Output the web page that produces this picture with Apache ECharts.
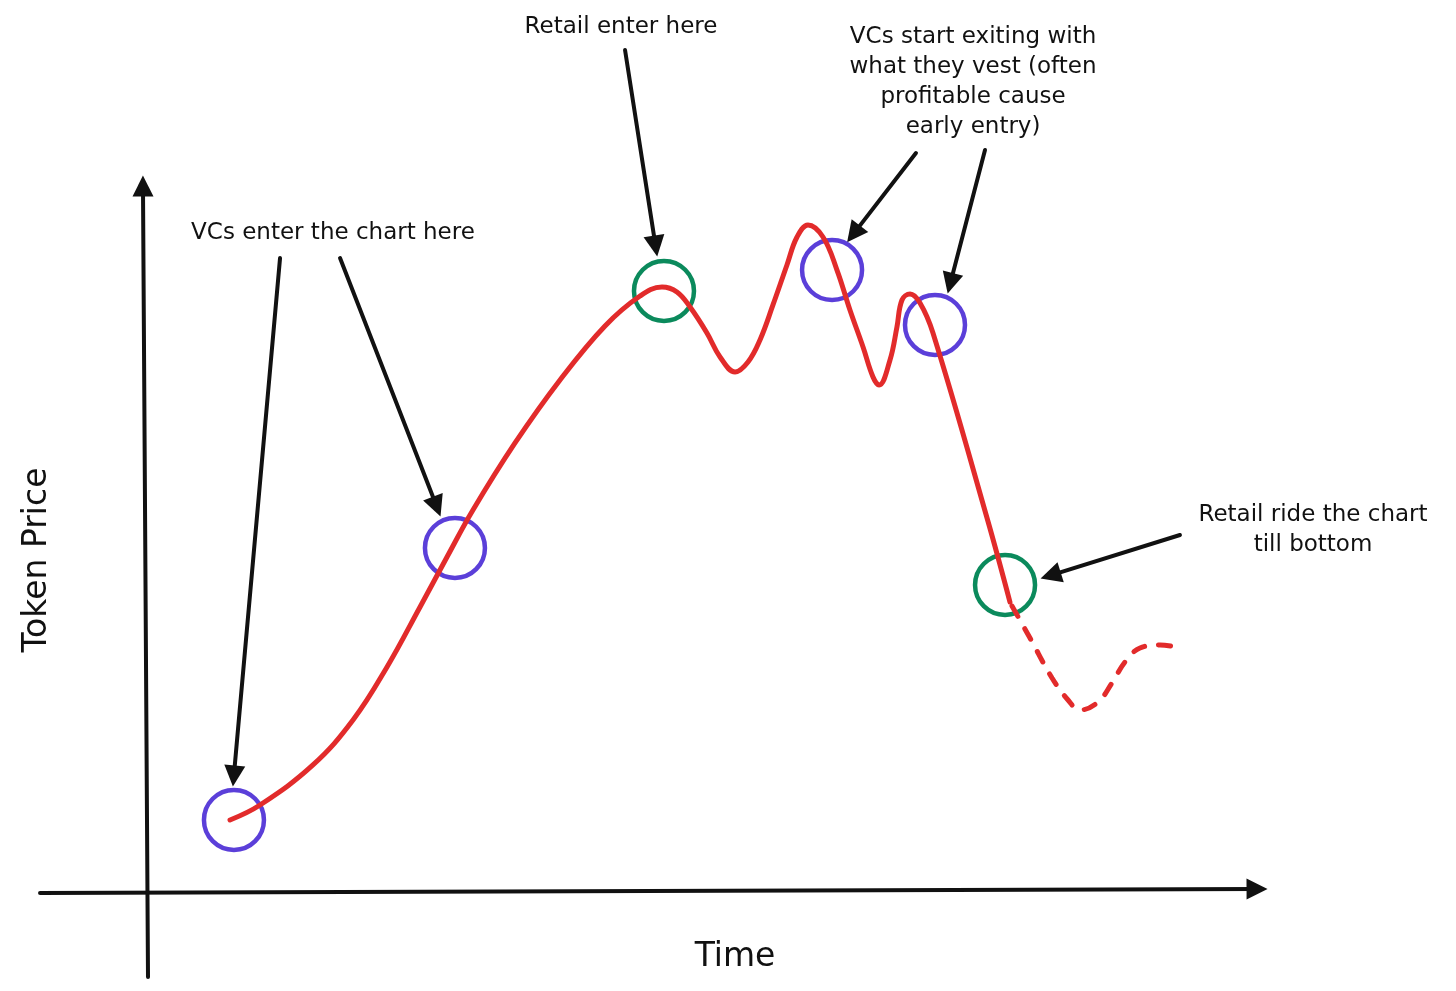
<!DOCTYPE html>
<html>
<head>
<meta charset="utf-8">
<script src="https://cdn.jsdelivr.net/npm/echarts@6/dist/echarts.min.js"></script>
<style>html,body{margin:0;padding:0;background:#fff}#c{width:1456px;height:991px}</style>
</head>
<body>
<div id="c"></div>
<script>
// Price path (time, price)
var priceSolid = [
  [7.42,10.0],[10.10,12.11],[14.83,17.75],[18.41,24.08],[21.45,31.55],[24.40,40.0],
  [26.81,47.04],[29.13,53.66],[32.89,63.10],[36.91,71.97],[40.93,79.58],[44.06,83.80],
  [46.02,85.07],[47.36,84.37],[48.53,82.25],[50.04,78.59],[51.21,75.21],
  [52.55,73.10],[53.71,74.51],[54.78,77.61],[55.94,82.54],[57.19,88.17],
  [58.09,92.11],[59.07,93.80],[60.41,92.11],[61.66,87.46],[62.82,81.83],[63.99,76.62],
  [64.88,72.39],[65.42,71.27],[66.40,74.79],[67.02,79.44],[67.47,83.24],[68.19,84.08],
  [69.08,82.82],[70.24,78.59],[75.07,52.54],[77.12,40.70]
];
var priceDashed = [
  [77.30,40.14],[78.91,35.63],[80.88,30.0],[82.31,26.90],[83.38,25.49],[84.99,26.62],
  [86.24,29.30],[87.40,32.25],[88.74,34.23],[90.53,34.65],[92.31,34.23]
];
// Highlighted moments
var vcCircles = [[7.77,10.0],[27.52,48.31],[61.22,87.46],[70.42,79.72]];
var retailCircles = [[46.20,84.51],[76.68,43.10]];
// Axis arrows (from, arrowhead centre)
var axisArrows = [
  [[-9.56,-0.28],[99.20,0.28]],
  [[0.09,-12.11],[-0.36,99.30]]
];
// Annotation arrows (from, arrowhead centre)
var noteArrows = [
  [[11.89,89.15],[7.76,16.20]],
  [[17.25,89.15],[25.89,54.14]],
  [[42.72,118.45],[45.45,90.83]],
  [[68.72,103.94],[63.14,92.55]],
  [[74.89,104.37],[71.79,85.59]],
  [[92.31,50.14],[80.75,44.46]]
];
// Annotation texts
var noteTexts = [
  [42.36,121.69,'Retail enter here'],
  [73.82,113.94,'VCs start exiting with\nwhat they vest (often\nprofitable cause\nearly entry)'],
  [16.62,92.68,'VCs enter the chart here'],
  [104.20,50.85,'Retail ride the chart\ntill bottom']
];
var axisTitles = [
  [52.55,-9.30,'Time',0],
  [-9.83,46.62,'Token Price',90]
];

var INK = '#111111', RED = '#e22b2b', VIOLET = '#5b3fd9', GREEN = '#0b8a5c';
var FONT = 'DejaVu Sans';

function arrowData(list){
  return list.map(function(p){ return {coords: p}; });
}

var chart = echarts.init(document.getElementById('c'));
chart.setOption({
  animation: false,
  backgroundColor: '#ffffff',
  grid: {left: 0, right: 0, top: 0, bottom: 0},
  xAxis: {type: 'value', min: -13.137, max: 116.98, show: false},
  yAxis: {type: 'value', min: -14.085, max: 125.49, show: false},
  series: [
    {
      type: 'lines', coordinateSystem: 'cartesian2d', z: 2,
      symbol: ['none', 'triangle'], symbolSize: 21,
      lineStyle: {color: INK, width: 4, opacity: 1, curveness: 0, cap: 'round'},
      data: arrowData(axisArrows)
    },
    {
      type: 'lines', coordinateSystem: 'cartesian2d', z: 2,
      symbol: ['none', 'triangle'], symbolSize: 21,
      lineStyle: {color: INK, width: 4, opacity: 1, curveness: 0, cap: 'round'},
      data: arrowData(noteArrows)
    },
    {
      type: 'scatter', z: 3, symbol: 'circle', symbolSize: 60,
      itemStyle: {color: 'rgba(0,0,0,0)', borderColor: VIOLET, borderWidth: 4.5, opacity: 1},
      data: vcCircles
    },
    {
      type: 'scatter', z: 3, symbol: 'circle', symbolSize: 60,
      itemStyle: {color: 'rgba(0,0,0,0)', borderColor: GREEN, borderWidth: 4.5, opacity: 1},
      data: retailCircles
    },
    {
      type: 'line', z: 4, smooth: 0.4, showSymbol: false, clip: false,
      lineStyle: {color: RED, width: 5, cap: 'round', join: 'round'},
      data: priceSolid
    },
    {
      type: 'line', z: 4, smooth: 0.4, showSymbol: false, clip: false,
      lineStyle: {color: RED, width: 5, type: [12, 14], cap: 'round'},
      data: priceDashed
    },
    {
      type: 'scatter', z: 5, symbolSize: 0,
      itemStyle: {opacity: 1},
      label: {
        show: true, position: 'inside', color: INK, opacity: 1, fontFamily: FONT,
        fontSize: 23, lineHeight: 30, align: 'center', verticalAlign: 'middle',
        formatter: function(p){ return p.value[2]; }
      },
      data: noteTexts
    },
    {
      type: 'scatter', z: 5, symbolSize: 0,
      itemStyle: {opacity: 1},
      data: axisTitles.map(function(t){
        return {
          value: [t[0], t[1], t[2]],
          label: {
            show: true, position: 'inside', color: INK, opacity: 1, fontFamily: FONT,
            fontSize: 33, rotate: t[3], align: 'center', verticalAlign: 'middle',
            formatter: function(p){ return p.value[2]; }
          }
        };
      })
    }
  ]
});
</script>
</body>
</html>
